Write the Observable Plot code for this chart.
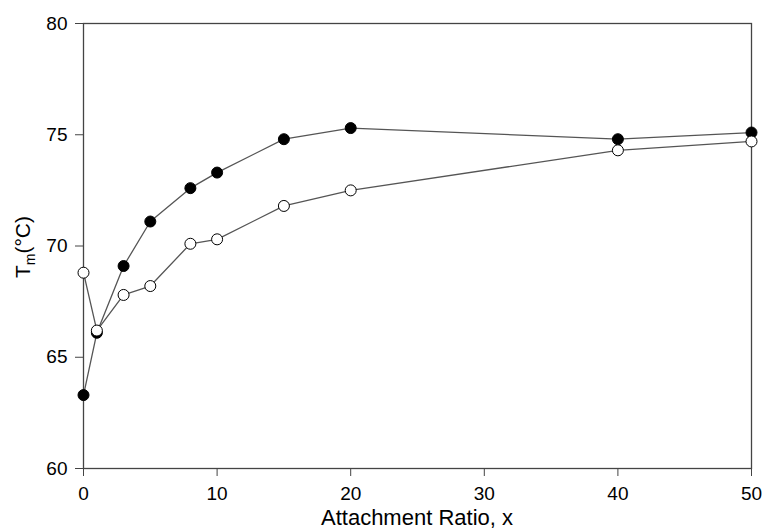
<!DOCTYPE html>
<html>
<head>
<meta charset="utf-8">
<script src="https://cdn.jsdelivr.net/npm/d3@7"></script>
<script src="https://cdn.jsdelivr.net/npm/@observablehq/plot@0.6"></script>
<style>
  html, body { margin: 0; padding: 0; background: #fff; }
  #chart svg { display: block; }
</style>
</head>
<body>
<div id="chart"></div>
<script>
// Attachment ratio (x) values
const ratios = [0, 1, 3, 5, 8, 10, 15, 20, 40, 50];
// Tm (°C) – filled circles series
const tmFilled = [63.3, 66.1, 69.1, 71.1, 72.6, 73.3, 74.8, 75.3, 74.8, 75.1];
// Tm (°C) – open circles series
const tmOpen = [68.8, 66.2, 67.8, 68.2, 70.1, 70.3, 71.8, 72.5, 74.3, 74.7];
// Tick values
const xTicks = [0, 10, 20, 30, 40, 50];
const yTicks = [60, 65, 70, 75, 80];
const xLabel = "Attachment Ratio, x";

const filled = ratios.map((x, i) => ({x, y: tmFilled[i]}));
const open = ratios.map((x, i) => ({x, y: tmOpen[i]}));

const W = 763, H = 531;
const chart = Plot.plot({
  width: W,
  height: H,
  marginLeft: 83,
  marginRight: 12,
  marginTop: 23,
  marginBottom: 63,
  style: {fontSize: "19px", fontFamily: "'Liberation Sans', Arial, sans-serif", background: "#fff", color: "#000"},
  x: {domain: [0, 50]},
  y: {domain: [60, 80]},
  marks: [
    Plot.axisX({ticks: xTicks, tickSize: 8, tickPadding: 10, label: null, stroke: "#444", fontSize: 19, tickFormat: d => d}),
    Plot.axisY({ticks: yTicks, tickSize: 8, tickPadding: 8, label: null, stroke: "#444", fontSize: 19, tickFormat: d => d}),
    Plot.frame({stroke: "#444", strokeWidth: 1.3}),
    Plot.line(filled, {x: "x", y: "y", stroke: "#555", strokeWidth: 1.3}),
    Plot.line(open, {x: "x", y: "y", stroke: "#555", strokeWidth: 1.3}),
    Plot.dot(filled, {x: "x", y: "y", r: 5.5, fill: "#000", stroke: "#000", strokeWidth: 1}),
    Plot.dot(open, {x: "x", y: "y", r: 5.5, fill: "#fff", stroke: "#000", strokeWidth: 1})
  ]
});
document.getElementById("chart").appendChild(chart);

const svg = d3.select(chart);
// X axis title
svg.append("text")
  .attr("x", (83 + (W - 12)) / 2)
  .attr("y", 525)
  .attr("text-anchor", "middle")
  .attr("font-size", 22)
  .attr("fill", "#000")
  .text(xLabel);
// Y axis title: T_m(°C)
const yl = svg.append("text")
  .attr("transform", "translate(30,247) rotate(-90)")
  .attr("text-anchor", "middle")
  .attr("font-size", 21)
  .attr("fill", "#000");
yl.append("tspan").text("T");
yl.append("tspan").attr("dy", 5).attr("font-size", 14).text("m");
yl.append("tspan").attr("dy", -5).text("(°C)");
</script>
</body>
</html>
